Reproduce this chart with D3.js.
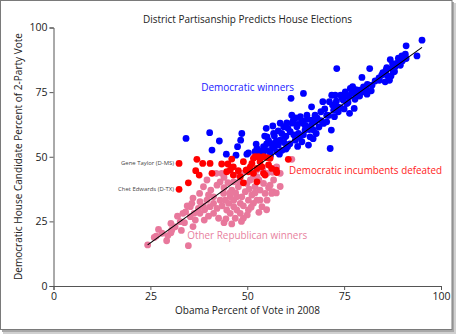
<!DOCTYPE html>
<html><head><meta charset="utf-8">
<script src="https://cdn.jsdelivr.net/npm/d3@7"></script>
<style>body{margin:0;background:#fff}svg{display:block}text{font-family:"Open Sans","Noto Sans",sans-serif}</style>
</head><body><svg id="c" width="457" height="335"></svg>
<script>
const title = "District Partisanship Predicts House Elections";
const xLabel = "Obama Percent of Vote in 2008";
const yLabel = "Democratic House Candidate Percent of 2-Party Vote";
const xTicks = [0, 25, 50, 75, 100];
const yTicks = [0, 25, 50, 75, 100];

const demWinners = [
[34.2,57.1],[40.3,59.3],[40.9,52.6],[42.8,56.1],[44.6,51.0],[47.1,50.6],[47.5,53.9],[48.3,56.4],[48.6,59.0],[49.9,51.0],
[50.3,51.5],[52.3,54.9],[52.5,53.2],[53.5,52.3],[54.2,53.9],[54.9,61.0],[55.1,57.7],[55.5,56.2],[56.1,55.2],[56.6,61.9],
[56.8,59.0],[55.9,51.9],[57.0,53.9],[57.6,51.9],[58.3,51.0],[58.5,56.4],[58.9,59.0],[59.4,61.6],[59.8,57.7],[60.2,63.1],
[60.4,53.9],[61.1,59.7],[61.3,72.6],[61.5,66.1],[61.9,64.2],[62.4,56.4],[62.8,61.6],[63.2,59.0],[63.7,65.5],[64.1,55.8],
[64.5,74.5],[64.5,62.9],[64.9,60.3],[65.4,66.1],[65.8,54.5],[66.2,57.7],[66.6,69.3],[66.6,64.2],[67.1,60.3],[67.5,66.1],
[67.8,59.0],[69.0,67.4],[69.5,71.3],[69.7,62.9],[70.5,66.1],[71.2,71.3],[71.4,53.2],[71.7,60.3],[71.8,73.8],[72.3,68.0],
[72.7,73.8],[73.1,84.1],[73.3,69.3],[73.5,67.4],[74.1,73.8],[74.8,71.9],[75.3,75.1],[75.7,70.6],[76.2,73.2],[76.4,66.8],
[76.6,76.4],[77.2,77.1],[77.6,68.7],[77.8,72.2],[78.3,74.5],[78.9,75.8],[79.6,80.7],[80.0,75.1],[80.7,76.4],[80.9,74.2],
[81.6,84.1],[82.2,77.7],[83.0,79.3],[85.6,79.0],[85.8,83.5],[86.0,81.6],[86.7,79.6],[86.9,87.6],[87.3,84.1],[87.7,82.8],
[88.6,86.1],[89.5,85.4],[89.9,89.0],[90.8,89.7],[91.0,92.9],[93.8,89.0],[95.1,95.1],[87.1,81.2],[89.0,88.1],[88.2,84.9],
[84.1,79.6],[84.7,81.6],
[53.0,50.5],[54.0,51.0],[55.0,52.5],[56.0,50.5],[57.0,58.0],[58.0,54.5],[58.0,60.0],[59.0,52.5],[59.5,55.5],[60.0,58.0],
[60.5,61.0],[61.0,55.0],[61.5,63.0],[62.0,58.5],[62.5,65.0],[63.0,62.5],[63.5,57.5],[64.0,64.0],[64.5,58.5],[65.0,62.0],
[65.5,64.5],[66.0,60.5],[66.5,62.0],[67.0,57.0],[67.5,63.5],[68.0,65.0],[68.5,61.5],[69.0,64.0],[70.0,68.5],[70.5,63.5],
[71.0,66.0],[72.0,70.0],[72.5,65.5],[73.0,71.5],[74.0,69.0],[74.5,72.5],[75.0,68.5],[75.5,74.0],[76.0,71.0],[77.0,74.5],
[78.0,76.0],[79.0,73.5],[80.0,77.0],[81.0,78.0],[82.0,75.5],[84.0,80.5],[85.0,82.5],[86.0,84.5],[86.5,80.0],[87.5,86.0],
[88.0,83.0],[89.0,86.5],[90.0,87.0],[91.0,88.0],[56.5,53.5],[57.5,56.0],[60.0,53.0],[63.0,54.0],[55.0,55.0],[52.0,52.0],
[54.5,58.0],[58.5,63.0]
];

const demDefeated = [
[32.4,47.4],[32.4,37.4],[34.8,39.9],[37.0,49.0],[38.5,47.4],[40.4,47.4],[36.7,44.6],[37.6,42.9],[40.9,43.6],[43.4,47.2],
[45.0,47.2],[46.0,49.1],[45.6,44.8],[46.4,42.9],[47.7,44.6],[49.0,48.1],[49.0,39.9],[49.7,44.8],[51.2,47.4],[51.6,49.4],
[52.5,40.3],[52.9,50.0],[54.2,50.0],[55.1,49.7],[53.8,46.1],[54.6,42.9],[55.9,49.4],[56.3,45.5],[57.5,44.8],[57.6,43.9],
[60.6,49.0],[48.2,42.3],[50.3,44.2],[52.5,45.5],[51.6,43.6],[46.4,46.1],[53.3,48.1],[55.5,46.8],[54.2,43.6],[44.7,44.2],
[52.0,50.0],[50.8,46.1]
];

const repWinners = [
[24.3,15.9],[26.0,18.8],[27.1,21.9],[26.5,19.3],[28.0,20.4],[29.2,17.5],[30.3,20.6],[30.3,24.2],[31.4,22.9],[30.5,21.6],
[32.7,24.9],[33.4,28.1],[33.8,24.5],[34.8,15.6],[34.1,28.7],[35.3,26.8],[35.3,30.7],[35.7,32.0],[36.3,28.1],[36.6,25.5],
[37.4,30.0],[37.8,28.1],[37.7,35.8],[37.8,32.6],[38.7,30.9],[38.9,25.5],[39.6,33.2],[40.0,35.2],[40.6,37.1],[40.4,30.7],
[41.3,32.0],[41.3,28.1],[42.2,30.0],[42.6,26.2],[43.0,33.2],[43.0,40.3],[43.4,43.6],[43.9,35.8],[44.0,24.5],[44.3,33.2],
[44.7,29.4],[45.2,32.0],[45.6,28.1],[45.6,34.5],[46.0,37.1],[46.5,33.2],[46.5,30.7],[46.9,26.2],[47.3,34.5],[47.3,29.4],
[47.7,38.4],[48.2,32.0],[48.2,28.1],[48.6,34.5],[49.0,26.2],[49.5,36.5],[49.9,39.7],[50.3,33.2],[50.3,29.4],[50.8,41.0],
[51.2,35.2],[51.6,32.0],[52.0,38.4],[52.5,33.2],[52.5,42.3],[53.3,37.1],[53.3,33.2],[53.8,30.7],[54.2,39.7],[54.6,35.8],
[55.1,33.2],[55.1,43.6],[55.9,39.0],[56.3,35.8],[56.8,41.0],[56.6,36.5],[57.6,46.1],[58.5,43.6],[61.5,49.0],[39.6,41.0],
[42.0,43.6],[46.5,40.3],[48.6,43.6],[51.6,42.3],
[36.0,34.0],[38.7,38.4],[41.3,34.5],[42.2,39.0],[44.0,38.0],[45.0,40.0],[47.0,36.0],[48.0,40.5],[49.0,31.0],[50.0,27.5],
[51.0,30.5],[52.0,36.0],[53.0,41.0],[54.0,45.0],[55.5,38.0],[44.5,26.0],[46.0,24.0],[48.5,25.0],[40.0,27.0],[39.0,29.5],
[43.5,31.0],[45.5,36.0],[50.5,37.5],[52.5,45.0],[47.5,43.0],[36.0,23.0],[33.0,21.5],[29.5,19.5],[32.0,27.0],[34.5,31.0],
[56.5,44.0],[53.0,28.5],[55.0,29.5],[57.5,36.0],[58.5,38.5],[50.0,45.0],[44.0,42.0]
];

const fitLine = [[24.3,15.9],[95.1,92.3]];
const annotations = [
  {name:"Gene Taylor (D-MS)", x:32.4, y:47.4, w:53},
  {name:"Chet Edwards (D-TX)", x:32.4, y:37.4, w:56}
];
const groupLabels = [
  {text:"Democratic winners", x:38.1, y:76.9, color:"#1a1aff", w:93},
  {text:"Democratic incumbents defeated", x:60.8, y:44.9, color:"#ff1a1a", w:153},
  {text:"Other Republican winners", x:34.5, y:19.7, color:"#e87fa0", w:120}
];

function fit(sel, w){
  sel.each(function(){
    const len = this.getComputedTextLength();
    if (len > 0) d3.select(this).attr("textLength", w).attr("lengthAdjust","spacingAndGlyphs");
  });
}

const svg = d3.select("#c");
svg.append("rect").attr("x",3).attr("y",3).attr("width",453).attr("height",331).attr("fill","#d0d0d0");
svg.append("rect").attr("x",2).attr("y",2).attr("width",452).attr("height",330).attr("fill","#a8a8a8");
svg.append("rect").attr("x",0.5).attr("y",0.5).attr("width",451.5).attr("height",329).attr("fill","#fff").attr("stroke","#7a7a7a");

const x = d3.scaleLinear().domain([0,100]).range([53.5,441]);
const y = d3.scaleLinear().domain([0,100]).range([286,27.5]);

const xAxis = svg.append("g").attr("transform","translate(0,286)")
  .call(d3.axisBottom(x).tickValues(xTicks).tickSize(4).tickPadding(3).tickFormat(d3.format("d")));
const yAxis = svg.append("g").attr("transform","translate(53.5,0)")
  .call(d3.axisLeft(y).tickValues(yTicks).tickSize(4).tickPadding(2).tickFormat(d3.format("d")));
[xAxis,yAxis].forEach(g=>{
  g.select(".domain").attr("stroke","#555");
  g.selectAll(".tick line").attr("stroke","#555");
  g.selectAll(".tick text").attr("fill","#222").style("font-size","10.5px").style("font-family","'Open Sans',sans-serif");
});

svg.append("text").attr("x",247.5).attr("y",22.5).attr("text-anchor","middle")
  .style("font-size","10.5px").attr("fill","#222").text(title).call(fit,209);
svg.append("text").attr("x",247.5).attr("y",314).attr("text-anchor","middle")
  .style("font-size","11px").attr("fill","#222").text(xLabel).call(fit,145);
svg.append("text").attr("transform","translate(22,156.5) rotate(-90)").attr("text-anchor","middle")
  .style("font-size","11px").attr("fill","#222").text(yLabel).call(fit,247);

const r = 3.4;
const plot = svg.append("g");
plot.selectAll("circle.b").data(demWinners).join("circle").attr("class","b")
  .attr("cx",d=>x(d[0])).attr("cy",d=>y(d[1])).attr("r",r).attr("fill","#0000ff");
plot.selectAll("circle.p").data(repWinners).join("circle").attr("class","p")
  .attr("cx",d=>x(d[0])).attr("cy",d=>y(d[1])).attr("r",r).attr("fill","#e8789c");
plot.selectAll("circle.rd").data(demDefeated).join("circle").attr("class","rd")
  .attr("cx",d=>x(d[0])).attr("cy",d=>y(d[1])).attr("r",r).attr("fill","#ff0000");

svg.append("path").datum(fitLine)
  .attr("d",d3.line().x(d=>x(d[0])).y(d=>y(d[1])))
  .attr("stroke","#000").attr("stroke-width",1.1).attr("fill","none");

svg.selectAll("text.ann").data(annotations).join("text").attr("class","ann")
  .attr("x",d=>x(d.x)-5).attr("y",d=>y(d.y)+2).attr("text-anchor","end")
  .style("font-size","6px").attr("fill","#444").text(d=>d.name)
  .each(function(d){ d3.select(this).call(fit, d.w); });

svg.selectAll("text.grp").data(groupLabels).join("text").attr("class","grp")
  .attr("x",d=>x(d.x)).attr("y",d=>y(d.y)+4).attr("fill",d=>d.color)
  .style("font-size","11.5px").text(d=>d.text)
  .each(function(d){ d3.select(this).call(fit, d.w); });
</script></body></html>
